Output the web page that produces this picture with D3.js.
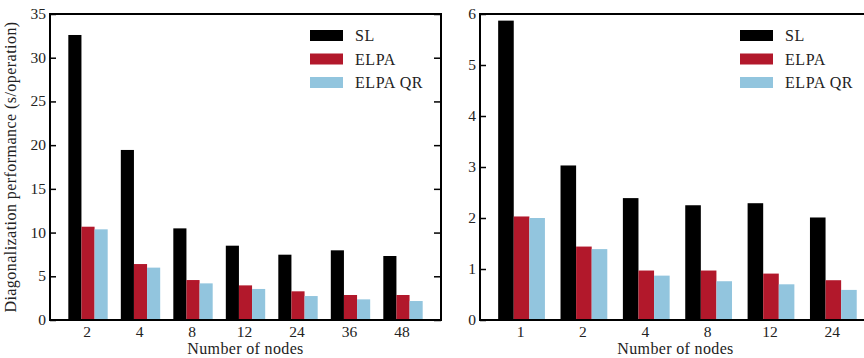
<!DOCTYPE html>
<html>
<head>
<meta charset="utf-8">
<script src="https://cdn.jsdelivr.net/npm/d3@7"></script>
<style>
  body { margin: 0; background: #fff; }
  svg text { font-family: "Liberation Serif", "DejaVu Serif", serif; }
</style>
</head>
<body>
<div id="chart"></div>
<script>
// series names and colours
const seriesNames = ['SL', 'ELPA', 'ELPA QR'];
const seriesColors = ['#000000', '#b2182b', '#92c5de'];

// left panel data
const nodesLeft = ['2', '4', '8', '12', '24', '36', '48'];
const slLeft = [32.6, 19.45, 10.48, 8.5, 7.47, 7.97, 7.32];
const elpaLeft = [10.67, 6.4, 4.57, 3.96, 3.28, 2.86, 2.86];
const elpaQrLeft = [10.37, 5.99, 4.19, 3.55, 2.74, 2.36, 2.17];
const yTicksLeft = [0, 5, 10, 15, 20, 25, 30, 35];

// right panel data
const nodesRight = ['1', '2', '4', '8', '12', '24'];
const slRight = [5.87, 3.03, 2.39, 2.25, 2.29, 2.01];
const elpaRight = [2.03, 1.44, 0.97, 0.97, 0.91, 0.78];
const elpaQrRight = [2.0, 1.39, 0.87, 0.76, 0.70, 0.59];
const yTicksRight = [0, 1, 2, 3, 4, 5, 6];

const svg = d3.select('#chart')
    .append('svg')
    .attr('width', 864)
    .attr('height', 358);

function drawPanel(opt) {
    const { x0, x1, top, bottom, cats, values, yMax, yTicks, padOuter, align, yLabel } = opt;

    const x = d3.scaleBand()
        .domain(cats)
        .range([x0, x1])
        .paddingInner(0.25)
        .paddingOuter(padOuter)
        .align(align);
    const sub = d3.scaleBand()
        .domain(seriesNames)
        .range([0, x.bandwidth()]);
    const y = d3.scaleLinear()
        .domain([0, yMax])
        .range([bottom, top]);

    const g = svg.append('g');

    // bars
    const rows = cats.map((c, i) => ({ cat: c, vals: seriesNames.map((s, k) => ({ s: s, k: k, v: values[k][i] })) }));
    g.selectAll('g.grp')
        .data(rows)
        .join('g')
        .attr('class', 'grp')
        .attr('transform', d => `translate(${x(d.cat)},0)`)
        .selectAll('rect')
        .data(d => d.vals)
        .join('rect')
        .attr('x', d => sub(d.s))
        .attr('y', d => y(d.v))
        .attr('width', sub.bandwidth())
        .attr('height', d => bottom - y(d.v))
        .attr('fill', d => seriesColors[d.k]);

    // axes (inward ticks)
    const axL = g.append('g')
        .attr('transform', `translate(${x0},0)`)
        .call(d3.axisRight(y).tickValues(yTicks).tickSize(6).tickFormat(''));
    axL.select('.domain').remove();
    axL.selectAll('line').attr('stroke-width', 1.5);

    const axR = g.append('g')
        .attr('transform', `translate(${x1},0)`)
        .call(d3.axisLeft(y).tickValues(yTicks).tickSize(7).tickFormat(''));
    axR.select('.domain').remove();
    axR.selectAll('line').attr('stroke-width', 1.5);

    // y tick labels
    g.selectAll('text.ylab')
        .data(yTicks)
        .join('text')
        .attr('class', 'ylab')
        .attr('x', x0 - 4)
        .attr('y', d => y(d) + 5)
        .attr('text-anchor', 'end')
        .attr('font-size', '15.5px')
        .attr('fill', '#222')
        .text(d => d);

    // x tick labels
    g.selectAll('text.xlab')
        .data(cats)
        .join('text')
        .attr('class', 'xlab')
        .attr('x', d => x(d) + x.bandwidth() / 2 - 1)
        .attr('y', bottom + 17)
        .attr('text-anchor', 'middle')
        .attr('font-size', '15.5px')
        .attr('fill', '#222')
        .text(d => d);

    // frame
    g.append('rect')
        .attr('x', x0)
        .attr('y', top)
        .attr('width', x1 - x0)
        .attr('height', bottom - top)
        .attr('fill', 'none')
        .attr('stroke', '#000')
        .attr('stroke-width', 2);

    // x title
    g.append('text')
        .attr('x', (x0 + x1) / 2)
        .attr('y', bottom + 34)
        .attr('text-anchor', 'middle')
        .attr('font-size', '16px')
        .attr('letter-spacing', '0.35px')
        .attr('fill', '#222')
        .text('Number of nodes');

    if (yLabel) {
        g.append('text')
            .attr('transform', `translate(${x0 - 34},${(top + bottom) / 2}) rotate(-90)`)
            .attr('text-anchor', 'middle')
            .attr('font-size', '16px')
            .attr('letter-spacing', '0.45px')
            .attr('fill', '#222')
            .text(yLabel);
    }

    // legend
    const lx = x0 + 260;
    const leg = g.selectAll('g.leg')
        .data(seriesNames)
        .join('g')
        .attr('class', 'leg')
        .attr('transform', (d, i) => `translate(${lx},${30 + i * 23.5})`);
    leg.append('rect')
        .attr('width', 33)
        .attr('height', 11)
        .attr('fill', (d, i) => seriesColors[i]);
    leg.append('text')
        .attr('x', 45)
        .attr('y', 11)
        .attr('font-size', '16px')
        .attr('letter-spacing', '0.6px')
        .attr('fill', '#222')
        .text(d => d);
}

drawPanel({
    x0: 50, x1: 441, top: 14, bottom: 320,
    cats: nodesLeft, values: [slLeft, elpaLeft, elpaQrLeft],
    yMax: 35, yTicks: yTicksLeft, padOuter: 0.349, align: 0.5,
    yLabel: 'Diagonalization performance (s/operation)'
});
drawPanel({
    x0: 480, x1: 871, top: 14, bottom: 320,
    cats: nodesRight, values: [slRight, elpaRight, elpaQrRight],
    yMax: 6, yTicks: yTicksRight, padOuter: 0.26, align: 0.56,
    yLabel: null
});
</script>
</body>
</html>
